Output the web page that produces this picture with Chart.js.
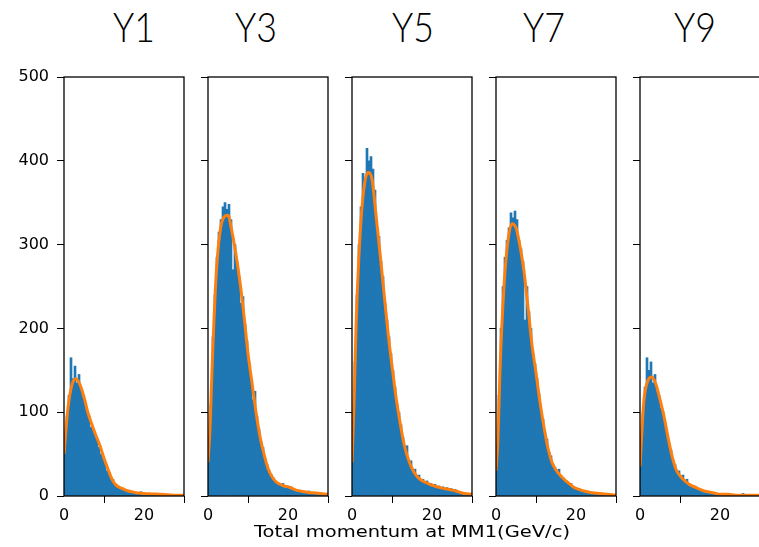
<!DOCTYPE html>
<html>
<head>
<meta charset="utf-8">
<script src="https://cdn.jsdelivr.net/npm/chart.js@4.4.1/dist/chart.umd.min.js"></script>
<style>
  body { margin: 0; background: #fff; }
  #wrap { position: relative; width: 759px; height: 547px; overflow: hidden; background: #fff; }
  #wrap canvas { position: absolute; top: 0; }
  .ttl { position: absolute; top: 5px; font: 300 42px/42px "Lato", sans-serif;
         color: #000; transform: translateX(-50%) scaleX(0.85); white-space: nowrap; }
  .xlab { position: absolute; left: 412px; top: 525px; font: 15px/15px "DejaVu Sans", sans-serif; color: #000;
          white-space: nowrap; transform: translateX(-50%) scaleX(1.3); }
</style>
</head>
<body>
<div id="wrap"></div>
<script>
// panel titles and axis label
const titles = ["Y1", "Y3", "Y5", "Y7", "Y9"];
const xLabel = "Total momentum at MM1(GeV/c)";
const xTicks = [0, 20];
const yTicks = [0, 100, 200, 300, 400, 500];

// histogram bin centres (bin width 0.5)
const binCenters = [0.25, 0.75, 1.25, 1.75, 2.25, 2.75, 3.25, 3.75, 4.25, 4.75,
  5.25, 5.75, 6.25, 6.75, 7.25, 7.75, 8.25, 8.75, 9.25, 9.75,
  10.25, 10.75, 11.25, 11.75, 12.25, 12.75, 13.25, 13.75, 14.25, 14.75,
  15.25, 15.75, 16.25, 16.75, 17.25, 17.75, 18.25, 18.75, 19.25, 19.75,
  20.25, 20.75, 21.25, 21.75, 22.25, 22.75, 23.25, 23.75, 24.25, 24.75,
  25.25, 25.75, 26.25, 26.75, 27.25, 27.75, 28.25, 28.75, 29.25, 29.75];

// counts per bin
const countsY1 = [55, 95, 120, 165, 140, 155, 135, 145, 128, 118,
  112, 100, 96, 82, 80, 72, 68, 58, 50, 45,
  40, 30, 28, 22, 20, 14, 13, 10, 10, 8,
  8, 6, 7, 5, 5, 4, 4, 3, 5, 3,
  3, 2, 3, 2, 2, 3, 2, 2, 3, 2,
  1, 1, 2, 1, 1, 1, 1, 0, 1, 0];
const countsY3 = [60, 110, 190, 240, 285, 315, 330, 345, 350, 342,
  348, 330, 270, 300, 280, 262, 230, 238, 205, 185,
  160, 140, 115, 125, 95, 80, 65, 58, 45, 38,
  30, 26, 22, 18, 16, 14, 12, 15, 10, 12,
  9, 11, 8, 7, 6, 7, 5, 6, 4, 5,
  6, 3, 4, 3, 3, 4, 2, 2, 3, 2];
const countsY5 = [70, 160, 240, 300, 345, 385, 370, 415, 400, 405,
  390, 365, 320, 310, 280, 262, 230, 210, 190, 170,
  150, 130, 110, 100, 85, 70, 55, 60, 40, 42,
  28, 32, 22, 25, 18, 20, 16, 18, 14, 15,
  12, 14, 11, 12, 9, 11, 8, 10, 7, 9,
  6, 8, 5, 4, 4, 3, 3, 2, 2, 2];
const countsY7 = [50, 120, 200, 250, 285, 305, 320, 338, 332, 340,
  330, 305, 295, 280, 210, 250, 220, 200, 170, 158,
  140, 122, 100, 92, 75, 68, 52, 48, 38, 34,
  28, 32, 24, 22, 19, 17, 14, 15, 11, 10,
  8, 9, 7, 6, 5, 6, 4, 5, 4, 3,
  3, 4, 2, 3, 2, 2, 1, 2, 1, 1];
const countsY9 = [45, 100, 130, 165, 150, 160, 135, 145, 125, 120,
  105, 100, 85, 75, 62, 55, 42, 38, 28, 30,
  22, 25, 18, 20, 14, 13, 11, 12, 9, 8,
  7, 6, 5, 5, 4, 4, 3, 3, 2, 3,
  2, 2, 1, 2, 1, 1, 1, 1, 1, 0,
  1, 3, 1, 0, 1, 0, 0, 1, 0, 0];

// fitted curve, sampled
const fitX = [0, 0.5, 1, 2, 3, 4, 5, 6, 7, 8, 9, 10, 11, 12, 13, 14, 15, 16, 17, 18, 19, 20, 22, 24, 26, 28, 30];
const fitY1 = [50, 80, 105, 133, 140, 133, 118, 99, 85, 72, 60, 45, 32, 20, 13, 10, 8, 6, 5, 4, 3.5, 3, 2.5, 2, 1.5, 1, 1];
const fitY3 = [40, 80, 150, 260, 315, 333, 335, 315, 288, 255, 215, 170, 135, 100, 71, 50, 33, 23, 17, 14, 12, 11, 7, 5, 4, 3, 2];
const fitY5 = [40, 110, 200, 310, 368, 386, 378, 335, 290, 242, 195, 155, 118, 88, 62, 45, 33, 25, 20, 17, 15, 13, 10, 8, 6, 3, 2];
const fitY7 = [30, 70, 150, 250, 305, 325, 320, 298, 268, 225, 180, 147, 112, 82, 57, 40, 31, 25, 20, 16, 12, 9, 6, 4, 3, 2, 1];
const fitY9 = [35, 80, 115, 138, 142, 133, 115, 95, 70, 48, 32, 24, 19, 15, 12, 10, 8, 6, 5, 4, 3, 2, 2, 1, 1, 1, 1];

const allCounts = [countsY1, countsY3, countsY5, countsY7, countsY9];
const allFits = [fitY1, fitY3, fitY5, fitY7, fitY9];

// layout (pixels)
const panelLeft = [64, 208, 352, 496, 640];
const titleX = [134, 256, 413, 544, 695];
const tickFont = { family: "DejaVu Sans", size: 16 };

const wrap = document.getElementById("wrap");

// draw the black box round each plot area
const frame = {
  id: "frame",
  afterDraw(chart) {
    const a = chart.chartArea, ctx = chart.ctx;
    ctx.save();
    ctx.strokeStyle = "#000";
    ctx.lineWidth = 1.3;
    ctx.strokeRect(a.left, a.top, a.right - a.left, a.bottom - a.top);
    ctx.restore();
  }
};

titles.forEach((t, i) => {
  const d = document.createElement("div");
  d.className = "ttl";
  d.style.left = titleX[i] + "px";
  d.textContent = t;
  wrap.appendChild(d);

  const cv = document.createElement("canvas");
  cv.width = 188;
  cv.height = 547;
  cv.style.left = (panelLeft[i] - 64) + "px";
  wrap.appendChild(cv);

  new Chart(cv.getContext("2d"), {
    type: "bar",
    data: {
      datasets: [
        {
          type: "line",
          data: fitX.map((x, j) => ({ x: x, y: allFits[i][j] })),
          borderColor: "#ff7f0e",
          borderWidth: 3,
          pointRadius: 0,
          cubicInterpolationMode: "monotone",
          fill: false,
          order: 0
        },
        {
          type: "bar",
          data: binCenters.map((x, j) => ({ x: x, y: allCounts[i][j] })),
          backgroundColor: "#1f77b4",
          borderWidth: 0,
          barPercentage: 1,
          categoryPercentage: 1,
          order: 1
        }
      ]
    },
    options: {
      responsive: false,
      animation: false,
      layout: { padding: { top: 77, right: 4, left: 0, bottom: 0 } },
      plugins: { legend: { display: false }, tooltip: { enabled: false } },
      scales: {
        x: {
          type: "linear",
          min: 0,
          max: 30,
          offset: false,
          afterBuildTicks: s => { s.ticks = xTicks.map(v => ({ value: v })); },
          afterFit: s => { s.height = 51; },
          grid: { drawOnChartArea: false, color: "#000", tickLength: 7 },
          border: { display: false },
          ticks: { font: tickFont, color: "#000", padding: 3, maxRotation: 0 }
        },
        y: {
          min: 0,
          max: 500,
          afterBuildTicks: s => { s.ticks = yTicks.map(v => ({ value: v })); },
          afterFit: s => { s.width = 64; },
          grid: { drawOnChartArea: false, color: "#000", tickLength: 7 },
          border: { display: false },
          ticks: { display: i === 0, font: tickFont, color: "#000", padding: 8 }
        }
      }
    },
    plugins: [frame]
  });
});

const xl = document.createElement("div");
xl.className = "xlab";
xl.textContent = xLabel;
wrap.appendChild(xl);
</script>
</body>
</html>
